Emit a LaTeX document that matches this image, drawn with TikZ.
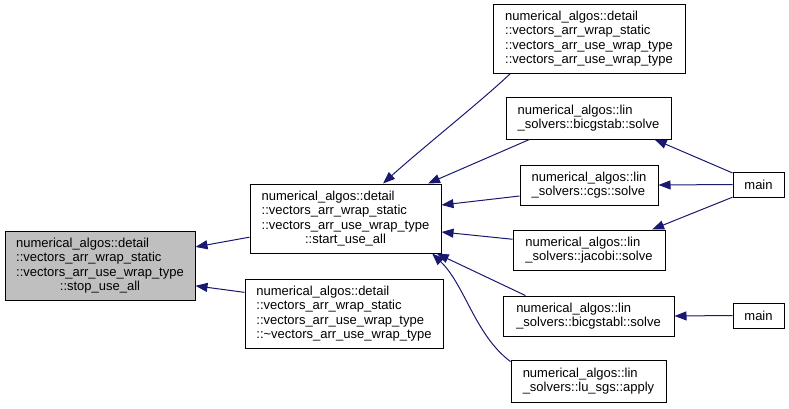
\documentclass[tikz,border=0pt]{standalone}
\usepackage{fontspec}
\setmainfont{Liberation Sans}
\usetikzlibrary{arrows.meta}
\definecolor{edgeblue}{HTML}{191970}

\begin{document}
\begin{tikzpicture}[x=1pt, y=-1pt, >={Triangle[length=12pt, width=9pt]},
    fn/.style={draw, line width=1pt, fill=white, align=left, inner sep=0pt,
        font=\fontsize{13}{14.3}\selectfont},
    calls/.style={->, edgeblue, line width=1pt}]
    \useasboundingbox (0,0) rectangle (789,408);
    % left
    \node[fn, fill=gray!50, minimum width=190pt, minimum height=69pt] (stop) at (100,265.5)
        {numerical\_algos::detail\\::vectors\_arr\_wrap\_static\\::vectors\_arr\_use\_wrap\_type\\\hfil::stop\_use\_all};
    % middle
    \node[fn, minimum width=191pt, minimum height=69pt] (start) at (345.5,218.5)
        {numerical\_algos::detail\\::vectors\_arr\_wrap\_static\\::vectors\_arr\_use\_wrap\_type\\\hfil::start\_use\_all};
    \node[fn, minimum width=198pt, minimum height=69pt] (destroy) at (344,313.5)
        {numerical\_algos::detail\\::vectors\_arr\_wrap\_static\\::vectors\_arr\_use\_wrap\_type\\::\textasciitilde vectors\_arr\_use\_wrap\_type};
    % right
    \node[fn, minimum width=192pt, minimum height=69pt] (ctor) at (589,38.5)
        {numerical\_algos::detail\\::vectors\_arr\_wrap\_static\\::vectors\_arr\_use\_wrap\_type\\::vectors\_arr\_use\_wrap\_type};
    \node[fn, minimum width=165pt, minimum height=42pt] (bicgstab) at (588.5,118)
        {numerical\_algos::lin\\\_solvers::bicgstab::solve};
    \node[fn, minimum width=138pt, minimum height=40pt] (cgs) at (589,185)
        {numerical\_algos::lin\\\_solvers::cgs::solve};
    \node[fn, minimum width=152pt, minimum height=40pt] (jacobi) at (589,250)
        {numerical\_algos::lin\\\_solvers::jacobi::solve};
    \node[fn, minimum width=171pt, minimum height=40pt] (bicgstabl) at (588.5,316)
        {numerical\_algos::lin\\\_solvers::bicgstabl::solve};
    \node[fn, minimum width=155pt, minimum height=42pt] (lusgs) at (588.5,381)
        {numerical\_algos::lin\\\_solvers::lu\_sgs::apply};
    \node[fn, minimum width=51pt, minimum height=25pt] (main1) at (758.5,184.5) {main};
    \node[fn, minimum width=51pt, minimum height=25pt] (main2) at (758.5,315.5) {main};

    \draw[calls] (start.191) -- (stop.11);
    \draw[calls] (destroy.168) -- (stop.348);
    \draw[calls] (ctor.204) .. controls (485,98) and (420,150) .. (start.43);
    \draw[calls] (bicgstab.200) -- (start.23);
    \draw[calls] (cgs.189) -- (start.8);
    \draw[calls] (jacobi.172) -- (start.352);
    \draw[calls] (bicgstabl.162) -- (start.339);
    \draw[calls] (lusgs.166) .. controls (475,335) and (465,285) .. (start.338);
    \draw[calls] (main1.156) -- (bicgstab.342);
    \draw[calls] (main1.west) -- (cgs.east);
    \draw[calls] (main1.206) -- (jacobi.18);
    \draw[calls] (main2.west) -- (bicgstabl.east);
\end{tikzpicture}
\end{document}
